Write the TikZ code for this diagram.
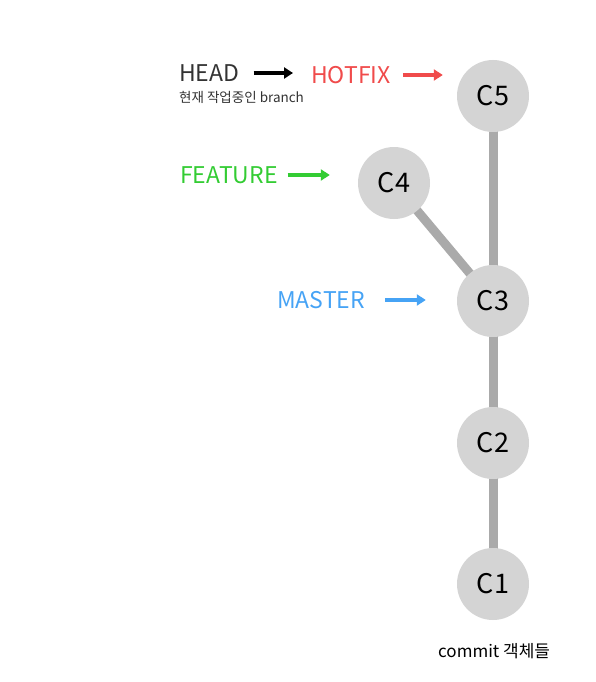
\documentclass[tikz,border=0pt]{standalone}
\usepackage{fontspec}
\setmainfont{Noto Sans CJK KR}
\usepackage{xcolor}
\usepackage{tikz}
\usetikzlibrary{positioning}
\usetikzlibrary{calc}
\usetikzlibrary{arrows.meta}
\usetikzlibrary{backgrounds}
\definecolor{hotfixred}{HTML}{F04B4B}
\definecolor{featgreen}{HTML}{33CC33}
\definecolor{masterblue}{HTML}{46A3F5}
\definecolor{commitgray}{HTML}{D4D4D4}
\definecolor{linkgray}{HTML}{AAAAAA}

\tikzset{
    commit/.style={circle,fill=commitgray,minimum size=72pt,inner sep=0pt,font=\fontsize{27}{30}\selectfont},
    link/.style={draw=linkgray,line width=9pt},
    ref/.style={inner sep=0pt,anchor=west,font=\fontsize{23}{26}\selectfont},
    pointer/.style={line width=4pt,-{Triangle[length=9pt,width=11pt]}}
}

\begin{document}
\begin{tikzpicture}[x=1pt,y=-1pt]
    \useasboundingbox (0,0) rectangle (595,682);

    \node[commit] (c5) at (493,96) {C5};
    \node[commit] (c4) at (394,183) {C4};
    \node[commit] (c3) at (493,301) {C3};
    \node[commit] (c2) at (493,443) {C2};
    \node[commit] (c1) at (493,584) {C1};

    \begin{scope}[on background layer]
        \draw[link] (c5.center) -- (c3.center);
        \draw[link] (c4.center) -- (c3.center);
        \draw[link] (c3.center) -- (c2.center);
        \draw[link] (c2.center) -- (c1.center);
    \end{scope}

    \node[ref,text=black!80] (head) at (179,73) {HEAD};
    \node[ref,text=hotfixred] (hotfix) at (311,75) {HOTFIX};
    \node[inner sep=0pt,anchor=west,font=\fontsize{13.5}{15}\selectfont,text=black!80] (current) at (179,97) {현재 작업중인 branch};
    \node[ref,text=featgreen] (feature) at (180,175) {FEATURE};
    \node[ref,text=masterblue] (master) at (277,300) {MASTER};
    \node[inner sep=0pt,anchor=west,font=\fontsize{17}{19}\selectfont] (objects) at (438,651) {commit 객체들};

    \coordinate (headtip) at ($(head.east -| hotfix.west)+(-18,0)$);
    \coordinate (hotfixtip) at ($(hotfix.east -| c5.west)+(-14,0)$);
    \coordinate (featuretip) at ($(feature.east -| c4.west)+(-28,0)$);
    \coordinate (mastertip) at ($(master.east -| c3.west)+(-31,0)$);

    \draw[pointer,black] ([xshift=14pt]head.east) -- (headtip);
    \draw[pointer,hotfixred] ([xshift=12pt]hotfix.east) -- (hotfixtip);
    \draw[pointer,featgreen] ([xshift=10pt]feature.east) -- (featuretip);
    \draw[pointer,masterblue] ([xshift=20pt]master.east) -- (mastertip);
\end{tikzpicture}
\end{document}
